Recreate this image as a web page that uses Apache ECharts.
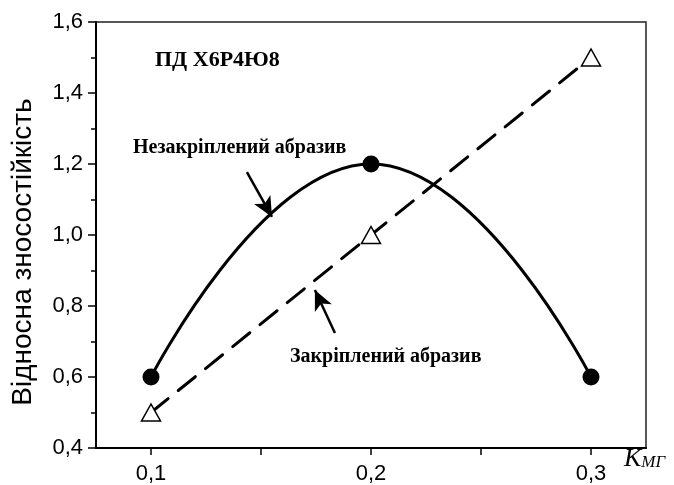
<!DOCTYPE html>
<html><head><meta charset="utf-8">
<script src="https://cdn.jsdelivr.net/npm/echarts@6/dist/echarts.min.js"></script>
<style>html,body{margin:0;padding:0;background:#fff}#c{width:674px;height:485px}</style>
</head><body><div id="c"></div>
<script>
// Data
const kValues = [0.1, 0.2, 0.3];
const looseAbrasive = [0.6, 1.2, 0.6];   // Незакріплений абразив
const fixedAbrasive = [0.5, 1.0, 1.5];   // Закріплений абразив
const xTickLabels = [0.1, 0.2, 0.3];
const xTicks = [0.1, 0.15, 0.2, 0.25, 0.3];
const arrowLoose = [[0.1436, 1.177], [0.155, 1.051]];
const arrowFixed = [[0.1836, 0.724], [0.1745, 0.845]];

const fmt = v => (Math.round(v * 10) / 10).toFixed(1).replace('.', ',');
const chart = echarts.init(document.getElementById('c'), null, {renderer: 'canvas'});
const black = '#000';
const serif = '"Liberation Serif", "Times New Roman", serif';
chart.setOption({
  animation: false,
  backgroundColor: '#fff',
  grid: {left: 96, right: 28, top: 22, bottom: 37, show: true, borderColor: '#222', borderWidth: 1.5, backgroundColor: 'transparent'},
  xAxis: {
    type: 'value', min: 0.075, max: 0.325,
    axisLine: {show: true, lineStyle: {color: black, width: 2}},
    axisTick: {show: true, inside: false, length: 7, lineStyle: {color: black, width: 1.5}, customValues: xTicks},
    axisLabel: {customValues: xTickLabels, formatter: fmt, color: black, fontFamily: 'Liberation Sans, Arial', fontSize: 22, margin: 15},
    splitLine: {show: false}
  },
  yAxis: {
    type: 'value', min: 0.4, max: 1.6, interval: 0.2,
    axisLine: {show: true, lineStyle: {color: black, width: 2}},
    axisTick: {show: true, inside: false, length: 8, lineStyle: {color: black, width: 1.5}},
    minorTick: {show: true, splitNumber: 2, length: 5, lineStyle: {color: black, width: 1.5}},
    axisLabel: {formatter: fmt, color: black, fontFamily: 'Liberation Sans, Arial', fontSize: 22, margin: 13},
    splitLine: {show: false}
  },
  series: [
    {
      type: 'line', name: 'loose', smooth: 0.5,
      data: kValues.map((k, i) => [k, looseAbrasive[i]]),
      symbol: 'circle', symbolSize: 17,
      itemStyle: {color: black},
      lineStyle: {color: black, width: 3},
      z: 3,
      markLine: {
        silent: true, symbol: ['none', 'arrow'], symbolSize: [14, 20],
        label: {show: false},
        lineStyle: {color: black, width: 2.5, type: 'solid'},
        data: [
          [{coord: arrowLoose[0]}, {coord: arrowLoose[1]}],
          [{coord: arrowFixed[0]}, {coord: arrowFixed[1]}]
        ]
      }
    },
    {
      type: 'line', name: 'fixed',
      data: kValues.map((k, i) => [k, fixedAbrasive[i]]),
      symbol: 'triangle', symbolSize: [19, 17],
      itemStyle: {color: '#fff', borderColor: black, borderWidth: 1.5},
      lineStyle: {color: black, width: 3, type: [22, 13], cap: 'round'},
      z: 2
    }
  ],
  graphic: [
    {type: 'text', x: 23, y: 252, rotation: Math.PI / 2, style: {text: 'Відносна зносостійкість', fill: black, font: '28px "Liberation Sans", Arial, sans-serif', align: 'center', verticalAlign: 'middle'}},
    {type: 'text', x: 155, y: 60, style: {text: 'ПД Х6Р4Ю8', fill: black, font: 'bold 22px ' + serif, verticalAlign: 'middle'}},
    {type: 'text', x: 133, y: 148, style: {text: 'Незакріплений абразив', fill: black, font: 'bold 20px ' + serif, verticalAlign: 'middle'}},
    {type: 'text', x: 290, y: 357, style: {text: 'Закріплений абразив', fill: black, font: 'bold 20px ' + serif, verticalAlign: 'middle'}},
    {type: 'text', x: 624, y: 446, style: {
      rich: {
        k: {font: 'italic 26px ' + serif, fill: black},
        s: {font: 'italic 17px ' + serif, fill: black, padding: [7, 0, 0, 0]}
      },
      text: '{k|K}{s|МГ}'
    }}
  ]
});
</script></body></html>
